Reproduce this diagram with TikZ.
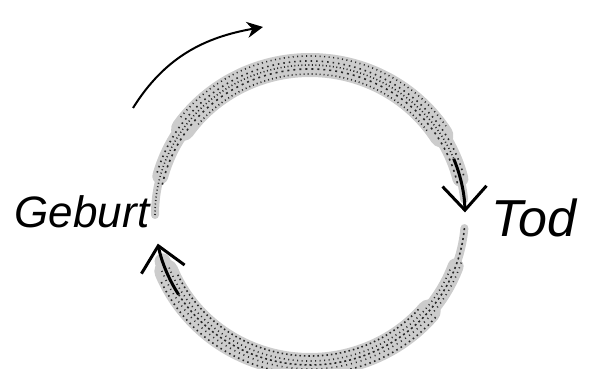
\documentclass[tikz,border=0pt]{standalone}
\usepackage{fontspec}
\newfontfamily\handfont{Liberation Sans}
\usetikzlibrary{arrows.meta,positioning,calc}

\begin{document}
\begin{tikzpicture}[
  x=1pt, y=1pt,
  word/.style={inner sep=0pt, font=\handfont\itshape\fontsize{44}{50}\selectfont},
  chalk/.style={black!20, line cap=round},
  grain/.style={line width=1.6pt, black!85},
  tipline/.style={line width=3pt, black, -{Straight Barb[length=24pt,width=44pt]}},
  >=Stealth
  ]
  \useasboundingbox (0,0) rectangle (589,369);
  \coordinate (c) at (310,154);
  \node[word] (geburt) at (82,157) {Geburt};
  \node[word, font=\handfont\itshape\fontsize{52}{58}\selectfont, right=342pt of geburt, yshift=-6pt] (tod) {Tod};

  % kreis oben: geburt -> tod
  \foreach \w/\s/\e in {8/180/6, 16/165/14, 24/145/32} {
    \draw[chalk, line width=\w pt] (c) ++(\s:155 and 150) arc[start angle=\s, end angle=\e, x radius=155, y radius=150];
  }
  \foreach \dr/\s/\e/\on/\off in {-9/140/36/1/3, -4/168/12/2/4, 0/180/6/1/2.5, 4/164/14/1.5/4, 9/142/34/1/3.5} {
    \draw[grain, dash pattern=on \on pt off \off pt] (c) ++(\s:{155+\dr} and {150+\dr}) arc[start angle=\s, end angle=\e, x radius={155+\dr}, y radius={150+\dr}];
  }
  \draw[tipline] (c) ++(22:155 and 150) arc[start angle=22, end angle=1, x radius=155, y radius=150];

  % kreis unten: tod -> geburt
  \foreach \w/\s/\e in {8/-5/-162, 16/-20/-162, 24/-40/-158} {
    \draw[chalk, line width=\w pt] (c) ++(\s:155 and 150) arc[start angle=\s, end angle=\e, x radius=155, y radius=150];
  }
  \foreach \dr/\s/\e/\on/\off in {-9/-42/-156/1.5/3, -4/-22/-160/1/3.5, 0/-5/-162/2/3, 4/-18/-160/1/4, 9/-40/-156/1.5/3.5} {
    \draw[grain, dash pattern=on \on pt off \off pt] (c) ++(\s:{155+\dr} and {150+\dr}) arc[start angle=\s, end angle=\e, x radius={155+\dr}, y radius={150+\dr}];
  }
  \draw[tipline] (c) ++(-148:155 and 150) arc[start angle=-148, end angle=-169, x radius=155, y radius=150];

  % kleiner pfeil
  \coordinate (a1) at (133,261);
  \coordinate (a2) at (263,342);
  \draw[line width=2pt, -{Stealth[length=16pt,width=16pt]}] (a1) to[out=58,in=190] (a2);
\end{tikzpicture}
\end{document}
